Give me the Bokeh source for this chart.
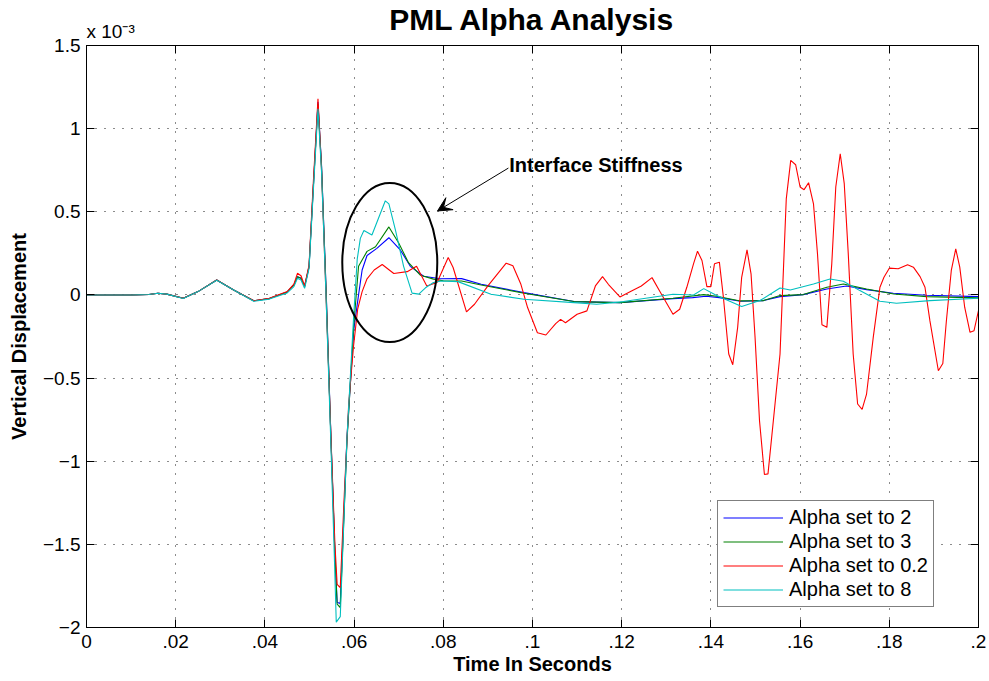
from bokeh.plotting import figure
from bokeh.models import (Range1d, FixedTicker, LinearAxis, Label, Arrow, VeeHead, Title)
from bokeh.embed import file_html
from bokeh.resources import INLINE

# ---------------- data (values in units of 1e-3) ----------------
t_blue = [0, 0.010, 0.014, 0.016, 0.018, 0.0217, 0.025, 0.0292, 0.033, 0.0375, 0.041, 0.045, 0.0465,
          0.0473, 0.0481, 0.0489, 0.0499, 0.0508, 0.0519, 0.0527, 0.0537, 0.0548, 0.0557, 0.0562, 0.0569,
          0.0584, 0.0599, 0.061, 0.0618, 0.0629, 0.0651, 0.0678, 0.0704, 0.0726, 0.0756, 0.0793, 0.0841,
          0.0885, 0.0981, 0.1093, 0.1196, 0.1315, 0.1359, 0.1389, 0.1419, 0.1466, 0.1518, 0.1555, 0.1607,
          0.166, 0.1704, 0.1749, 0.1809, 0.1884, 0.2]
y_blue = [0, 0, 0.003, 0.01, 0.005, -0.02, 0.02, 0.09, 0.03, -0.035, -0.022, 0.018, 0.06,
          0.11, 0.1, 0.05, 0.17, 0.62, 1.16, 0.78, 0.05, -0.85, -1.55, -1.85, -1.855,
          -0.86, -0.215, 0.0, 0.15, 0.237, 0.28, 0.344, 0.269, 0.172, 0.112, 0.097, 0.098,
          0.064, 0.014, -0.04, -0.046, -0.022, -0.016, -0.008, -0.016, -0.038, -0.034, -0.01, 0.002,
          0.036, 0.054, 0.032, 0.01, -0.002, -0.01]

t_green = [0, 0.010, 0.014, 0.016, 0.018, 0.0217, 0.025, 0.0292, 0.033, 0.0375, 0.041, 0.045, 0.0465,
           0.0473, 0.0481, 0.0489, 0.0499, 0.0508, 0.0519, 0.0527, 0.0537, 0.0548, 0.0557, 0.0562, 0.0569,
           0.0584, 0.0599, 0.061, 0.0629, 0.0648, 0.0678, 0.07, 0.0722, 0.0749, 0.0778, 0.08, 0.0841,
           0.0885, 0.0981, 0.1093, 0.1196, 0.1315, 0.1384, 0.1413, 0.1466, 0.1518, 0.1555, 0.1607,
           0.166, 0.1697, 0.1749, 0.181, 0.1884, 0.2]
y_green = [0, 0, 0.003, 0.01, 0.005, -0.02, 0.02, 0.09, 0.03, -0.035, -0.022, 0.018, 0.06,
           0.11, 0.1, 0.05, 0.17, 0.62, 1.15, 0.77, 0.04, -0.86, -1.56, -1.86, -1.88,
           -0.88, -0.19, 0.172, 0.262, 0.29, 0.409, 0.312, 0.194, 0.118, 0.095, 0.085, 0.084,
           0.06, 0.01, -0.04, -0.046, -0.02, 0.002, -0.008, -0.036, -0.034, -0.004, 0.002,
           0.046, 0.066, 0.036, 0.006, -0.01, -0.018]

t_red = [0, 0.010, 0.014, 0.016, 0.018, 0.0217, 0.025, 0.0292, 0.033, 0.0375, 0.041, 0.045, 0.0465,
         0.0473, 0.0481, 0.0489, 0.0499, 0.0508, 0.0519, 0.0527, 0.0537, 0.0548, 0.0557, 0.0562, 0.0569,
         0.0578, 0.0588, 0.0599, 0.0608, 0.0618, 0.0629, 0.0645, 0.0663, 0.0689, 0.0719, 0.074, 0.0763,
         0.0786, 0.0811, 0.0822, 0.0852, 0.087, 0.09, 0.0941, 0.0956, 0.0974, 0.0989, 0.1011, 0.103,
         0.1052, 0.1063, 0.1074, 0.11, 0.1122, 0.1141, 0.1157, 0.117, 0.1196, 0.1222, 0.1244, 0.1268,
         0.1285, 0.1315, 0.133, 0.1346, 0.1361, 0.137, 0.138, 0.1391, 0.14, 0.1408, 0.1419, 0.1428,
         0.144, 0.1449, 0.146, 0.1469, 0.1481, 0.149, 0.1499, 0.1509, 0.152, 0.1528, 0.154, 0.1555,
         0.1569, 0.1579, 0.159, 0.16, 0.1609, 0.1619, 0.163, 0.1639, 0.1649, 0.166, 0.1671, 0.168,
         0.169, 0.1699, 0.1708, 0.1719, 0.1729, 0.1739, 0.1749, 0.1764, 0.1779, 0.1788, 0.18, 0.182,
         0.1841, 0.1854, 0.1869, 0.188, 0.1891, 0.191, 0.192, 0.1928, 0.1939, 0.1949, 0.1958, 0.1969,
         0.1981, 0.199, 0.2]
y_red = [0, 0, 0.003, 0.01, 0.005, -0.02, 0.02, 0.09, 0.03, -0.035, -0.02, 0.02, 0.065,
         0.13, 0.115, 0.055, 0.18, 0.65, 1.18, 0.75, 0.0, -0.85, -1.5, -1.74, -1.76,
         -1.2, -0.65, -0.3, -0.086, 0.02, 0.097, 0.15, 0.183, 0.129, 0.14, 0.172, 0.054,
         0.075, 0.225, 0.165, -0.102, -0.056, 0.054, 0.191, 0.175, 0.064, -0.076, -0.227, -0.241,
         -0.173, -0.147, -0.167, -0.116, -0.096, 0.054, 0.11, 0.064, -0.012, 0.024, 0.054, 0.104,
         0.024, -0.116, -0.086, 0.046, 0.187, 0.263, 0.207, 0.05, 0.05, 0.187, 0.197, -0.014,
         -0.355, -0.42, -0.195, 0.106, 0.271, 0.127, -0.255, -0.757, -1.08, -1.076, -0.757, -0.355,
         0.578, 0.809, 0.783, 0.649, 0.633, 0.675, 0.548, 0.247, -0.179, -0.195, 0.187, 0.649,
         0.849, 0.669, 0.247, -0.355, -0.656, -0.688, -0.596, -0.255, 0.046, 0.106, 0.161, 0.157,
         0.181, 0.167, 0.11, 0.046, -0.155, -0.456, -0.412, -0.155, 0.147, 0.277, 0.167, -0.074,
         -0.225, -0.215, -0.094]

t_cyan = [0, 0.010, 0.014, 0.016, 0.018, 0.0217, 0.025, 0.0292, 0.033, 0.0375, 0.041, 0.045, 0.0465,
          0.0473, 0.0481, 0.0489, 0.0499, 0.0508, 0.0519, 0.0527, 0.0537, 0.0548, 0.0556, 0.056, 0.0569,
          0.0584, 0.0599, 0.0607, 0.0614, 0.0622, 0.064, 0.067, 0.0678, 0.0693, 0.0711, 0.073, 0.0745,
          0.076, 0.0778, 0.0796, 0.0833, 0.0907, 0.0981, 0.1093, 0.1144, 0.1204, 0.1315, 0.1361, 0.1384,
          0.1413, 0.1469, 0.151, 0.1555, 0.1578, 0.163, 0.1667, 0.1697, 0.1734, 0.1779, 0.1816, 0.1891, 0.2]
y_cyan = [0, 0, 0.003, 0.01, 0.005, -0.022, 0.02, 0.088, 0.03, -0.038, -0.025, 0.012, 0.05,
          0.1, 0.09, 0.04, 0.16, 0.6, 1.12, 0.74, 0.0, -0.9, -1.6, -1.968, -1.935,
          -0.86, -0.13, 0.215, 0.34, 0.387, 0.36, 0.566, 0.548, 0.387, 0.172, 0.011, 0.005,
          0.043, 0.075, 0.084, 0.08, 0.004, -0.026, -0.046, -0.056, -0.04, 0.004, 0.0, 0.038,
          -0.004, -0.07, -0.034, 0.042, 0.03, 0.066, 0.096, 0.082, 0.026, -0.038, -0.05, -0.034, -0.02]

series_labels = ["Alpha set to 2", "Alpha set to 3", "Alpha set to 0.2", "Alpha set to 8"]
x_ticks = [0, 0.02, 0.04, 0.06, 0.08, 0.1, 0.12, 0.14, 0.16, 0.18, 0.2]
x_tick_labels = ["0", ".02", ".04", ".06", ".08", ".1", ".12", ".14", ".16", ".18", ".2"]
y_ticks = [-2, -1.5, -1, -0.5, 0, 0.5, 1, 1.5]
y_tick_labels = ["\u22122", "\u22121.5", "\u22121", "\u22120.5", "0", "0.5", "1", "1.5"]

FONT = "Liberation Sans"

p = figure(width=988, height=680, output_backend="svg", toolbar_location=None,
           x_range=Range1d(0, 0.2), y_range=Range1d(-2, 1.5),
           min_border_left=86, min_border_right=10, min_border_top=45, min_border_bottom=53,
           background_fill_color="white", border_fill_color="white",
           outline_line_color="black", outline_line_width=1)

xt = FixedTicker(ticks=x_ticks)
yt = FixedTicker(ticks=y_ticks)
p.xaxis.ticker = xt
p.yaxis.ticker = yt
p.xaxis.major_label_overrides = dict(zip(x_ticks, x_tick_labels))
p.yaxis.major_label_overrides = dict(zip(y_ticks, y_tick_labels))

for ax in (p.xaxis[0], p.yaxis[0]):
    ax.major_tick_in = 8
    ax.major_tick_out = 0
    ax.minor_tick_in = 0
    ax.minor_tick_out = 0
    ax.axis_line_color = "black"
    ax.major_tick_line_color = "black"
    ax.major_label_text_font = FONT
    ax.major_label_text_font_size = "19px"
    ax.major_label_text_color = "black"
    ax.axis_label_text_font = FONT
    ax.axis_label_text_font_size = "20px"
    ax.axis_label_text_font_style = "bold"
    ax.axis_label_text_color = "black"

p.xaxis.axis_label = "Time In Seconds"
p.yaxis.axis_label = "Vertical Displacement"
p.xaxis.major_label_standoff = 7
p.xaxis.axis_label_standoff = 2
p.yaxis.major_label_standoff = 6
p.yaxis.axis_label_standoff = 10

# box axes (top/right) with inward ticks, no labels
top = LinearAxis(ticker=FixedTicker(ticks=x_ticks), major_tick_in=8, major_tick_out=0,
                 minor_tick_in=0, minor_tick_out=0, major_label_text_font_size="0px",
                 major_label_standoff=0, axis_line_color="black")
right = LinearAxis(ticker=FixedTicker(ticks=y_ticks), major_tick_in=8, major_tick_out=0,
                   minor_tick_in=0, minor_tick_out=0, major_label_text_font_size="0px",
                   major_label_standoff=0, axis_line_color="black")
p.add_layout(top, "above")
p.add_layout(right, "right")

# exponent note (inner) and main title (outer)
p.add_layout(Title(text="x 10\u207b\u00b3", align="left", offset=0, standoff=8,
                   text_font=FONT, text_font_size="19px", text_font_style="normal",
                   text_color="black"), "above")
p.add_layout(Title(text="PML Alpha Analysis", align="center", standoff=-42,
                   text_font=FONT, text_font_size="30px", text_font_style="bold",
                   text_color="black"), "above")

p.xgrid.ticker = xt
p.ygrid.ticker = yt
for g in (p.xgrid[0], p.ygrid[0]):
    g.grid_line_color = "black"
    g.grid_line_alpha = 0.9
    g.grid_line_dash = "1 8"
    g.grid_line_width = 1

colors = ["#0000ff", "#008000", "#ff0000", "#00bfbf"]
series = [(t_blue, y_blue), (t_green, y_green), (t_red, y_red), (t_cyan, y_cyan)]
for (tx, ty), c, lab in zip(series, colors, series_labels):
    p.line(tx, ty, line_color=c, line_width=1.1, legend_label=lab)

leg = p.legend[0]
leg.location = (631, 20)
leg.margin = 0
leg.padding = 5
leg.spacing = 1
leg.glyph_width = 60
leg.glyph_height = 21
leg.label_height = 21
leg.label_standoff = 6
leg.label_text_font = FONT
leg.label_text_font_size = "20px"
leg.label_text_color = "black"
leg.border_line_color = "black"
leg.border_line_width = 1
leg.background_fill_color = "white"
leg.background_fill_alpha = 1

# annotation ellipse and arrow
p.ellipse(x=[0.068], y=[0.195], width=[0.0213], height=[0.957],
          fill_alpha=0, line_color="black", line_width=2)
p.add_layout(Arrow(end=VeeHead(size=14, fill_color="black", line_color="black"),
                   x_start=0.0946, y_start=0.763, x_end=0.0787, y_end=0.505,
                   line_color="black", line_width=1))
p.add_layout(Label(x=0.0948, y=0.781, text="Interface Stiffness", text_font=FONT,
                   text_font_size="20px", text_font_style="bold", text_color="black",
                   text_baseline="alphabetic", text_align="left"))

open("out.html", "w").write(file_html(p, INLINE))
